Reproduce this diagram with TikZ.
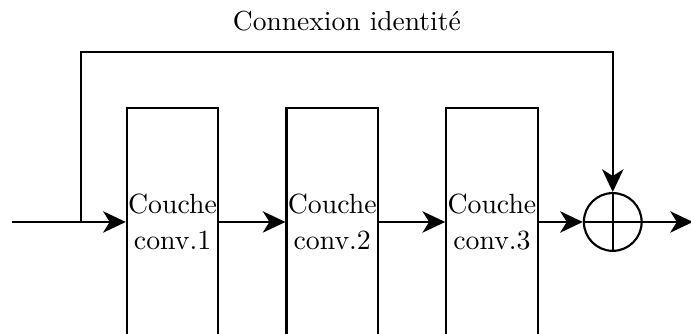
\documentclass[tikz,border=0pt]{standalone}
\usepackage{amsmath}
\usepackage{tikz}
\usetikzlibrary{arrows.meta, positioning}

\tikzset{
  layer/.style={draw, thick, minimum width=1.2cm, minimum height=3cm, inner sep=0.5pt, align=center, font=\fontsize{10.4}{13.4}\selectfont},
  somme/.style={draw, thick, circle, minimum size=0.76cm, inner sep=0pt},
  flow/.style={thick, -{Stealth[length=8.5pt, width=8pt, inset=2.5pt]}}
}

\begin{document}
\begin{tikzpicture}[node distance=0.9cm]
\useasboundingbox (-2.27,-1.47) rectangle (6.82,2.92);

\node[layer] (conv1) at (0,0) {Couche\\conv.1};
\node[layer, right=0.87cm of conv1] (conv2) {Couche\\conv.2};
\node[layer, right=0.87cm of conv2] (conv3) {Couche\\conv.3};
\node[somme, right=0.58cm of conv3] (add) {};
\draw[thick] (add.north) -- (add.south) (add.west) -- (add.east);

\coordinate[left=1.5cm of conv1] (input);
\coordinate[left=0.59cm of conv1] (branch);
\coordinate (topleft) at (branch |- 0,2.24);
\coordinate[right=0.66cm of add] (output);

% main path
\draw[flow] (input) -- (conv1);
\draw[flow] (conv1) -- (conv2);
\draw[flow] (conv2) -- (conv3);
\draw[flow] (conv3) -- (add);
\draw[flow] (add) -- (output);

% skip connection
\draw[flow] (branch) -- (topleft) -| node[pos=0.25, above=4pt, font=\fontsize{10.3}{12}\selectfont] {Connexion identit\'e} (add.north);
\end{tikzpicture}
\end{document}
